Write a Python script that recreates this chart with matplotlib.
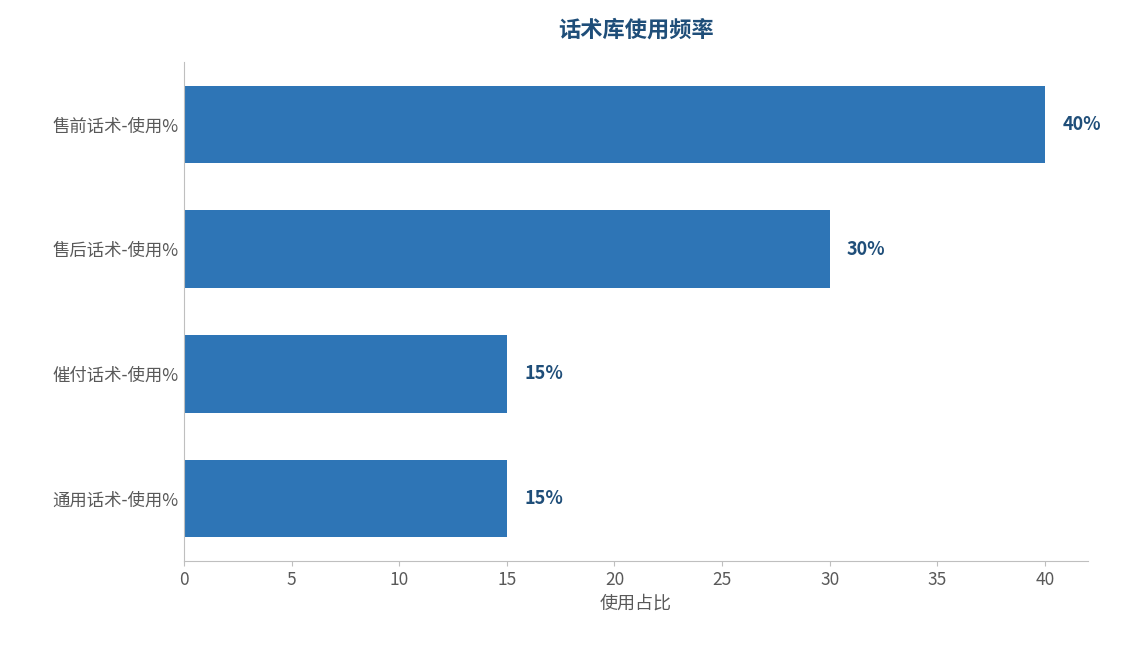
import matplotlib
matplotlib.use("Agg")
import matplotlib.pyplot as plt

plt.rcParams['font.family'] = ['Noto Sans CJK SC', 'DejaVu Sans']

categories = ["售前话术-使用%", "售后话术-使用%", "催付话术-使用%", "通用话术-使用%"]
values = [40, 30, 15, 15]
labels = ["40%", "30%", "15%", "15%"]

fig = plt.figure(figsize=(11.24, 6.45), dpi=100)
ax = fig.add_axes([0.1637, 0.130, 0.968 - 0.1637, 0.904 - 0.130])
ypos = list(range(len(categories)))
ax.barh(ypos, values, height=0.62, color="#2E75B6")
ax.set_yticks(ypos)
ax.set_yticklabels(categories)
ax.set_ylim(3.5, -0.5)
ax.set_xlim(0, 42)
ax.set_xticks(range(0, 41, 5))
for y, v, t in zip(ypos, values, labels):
    ax.text(v + 0.8, y, t, va="center", ha="left", fontsize=13, fontweight="bold", color="#1F4E79")
ax.set_xlabel("使用占比", fontsize=13, color="#595959")
ax.set_title("话术库使用频率", fontsize=16, fontweight="bold", color="#1F4E79", pad=18)
for s in ["top", "right"]:
    ax.spines[s].set_visible(False)
for s in ["left", "bottom"]:
    ax.spines[s].set_color("#BFBFBF")
ax.tick_params(axis="both", colors="#595959", labelsize=12.5)
ax.tick_params(axis="y", length=0, pad=4)
ax.tick_params(axis="x", color="#BFBFBF")
fig.savefig("out.png", dpi=100)
